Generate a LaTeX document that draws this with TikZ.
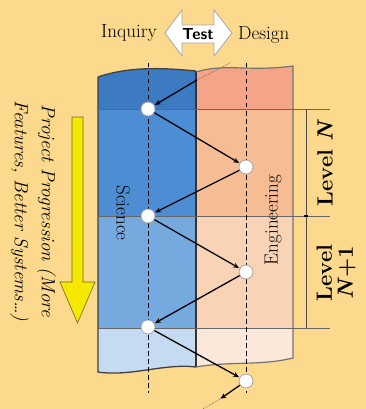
\documentclass[tikz,border=0pt]{standalone}
\usepackage{tikz}
\usetikzlibrary{arrows.meta}

\definecolor{paper}{HTML}{FCD98C}
\definecolor{sciA}{HTML}{3C7AC2}
\definecolor{sciB}{HTML}{4C8DD4}
\definecolor{sciC}{HTML}{76AADF}
\definecolor{sciD}{HTML}{C4DBF1}
\definecolor{engA}{HTML}{F5A487}
\definecolor{engB}{HTML}{F6BC93}
\definecolor{engC}{HTML}{F8D3B6}
\definecolor{engD}{HTML}{FBE8DA}
\definecolor{arrowyellow}{HTML}{F6E800}

\tikzset{
  stage/.style={circle,draw=gray!70,fill=white,line width=0.8pt,minimum size=14pt,inner sep=0pt},
  flow/.style={-{Stealth[length=6pt,width=5pt]},line width=1.3pt,shorten >=0.5pt},
  track/.style={line width=1pt,dash pattern=on 4.5pt off 3.5pt},
  levelrule/.style={draw=black!60,line width=0.7pt},
  caption/.style={font=\fontsize{19}{21}\selectfont},
  levelname/.style={font=\fontsize{22}{21}\selectfont\bfseries,rotate=90,align=center}
}

\begin{document}
\begin{tikzpicture}[x=1pt,y=-1pt]
  % background
  \fill[paper] (0,0) rectangle (366,409);
  \useasboundingbox (0,0) rectangle (366,409);

  % science column, shaded by level
  \begin{scope}
    \clip (98,77) .. controls (130,66) and (165,68) .. (196,71) -- (196,367)
      .. controls (165,363) and (130,377) .. (98,372) -- cycle;
    \fill[sciA] (90,60) rectangle (200,109);
    \fill[sciB] (90,109) rectangle (200,216);
    \fill[sciC] (90,216) rectangle (200,328);
    \fill[sciD] (90,328) rectangle (200,380);
  \end{scope}
  % engineering column, shaded by level
  \begin{scope}
    \clip (196,72) .. controls (225,63) and (250,72) .. (293,66) -- (293,358)
      .. controls (260,366) and (230,361) .. (196,367) -- cycle;
    \fill[engA] (190,60) rectangle (300,109);
    \fill[engB] (190,109) rectangle (300,216);
    \fill[engC] (190,216) rectangle (300,328);
    \fill[engD] (190,328) rectangle (300,380);
  \end{scope}
  % column edges
  \draw[black!75,line width=1.3pt] (98,77) .. controls (130,66) and (165,68) .. (196,71)
    (196,367) .. controls (165,363) and (130,377) .. (98,372) -- (98,77);
  \draw[black!80,line width=1.4pt] (196,71) -- (196,367);
  \draw[black!55,line width=1.2pt] (196,72) .. controls (225,63) and (250,72) .. (293,66)
    -- (293,358) .. controls (260,366) and (230,361) .. (196,367);

  % level boundaries and the bracket beside them
  \foreach \yy in {109,216,328}
    \draw[levelrule] (98,\yy) -- (330,\yy);
  \draw[black!70,line width=0.8pt] (306,109) -- (306,328);
  \draw[black,line width=1.2pt] (304,216) -- (308,216);

  % dashed tracks
  \draw[track] (148,63) -- (148,393);
  \draw[track] (246,63) -- (246,393);

  % stages
  \coordinate (entry) at (197,80);
  \coordinate (lead) at (230,63);
  \node[stage] (s1) at (148,109) {};
  \node[stage] (e1) at (246,167) {};
  \node[stage] (s2) at (148,216) {};
  \node[stage] (e2) at (246,272) {};
  \node[stage] (s3) at (148,327) {};
  \node[stage] (e3) at (246,381) {};
  \coordinate (exit) at (220,399);
  \coordinate (tail) at (203,409);

  % zig-zag between inquiry and design
  \draw[densely dotted,black!60,line width=0.7pt] (lead) -- (entry);
  \draw[flow] (entry) -- (s1);
  \draw[flow] (s1) -- (e1);
  \draw[flow] (e1) -- (s2);
  \draw[flow] (s2) -- (e2);
  \draw[flow] (e2) -- (s3);
  \draw[flow] (s3) -- (e3);
  \draw[flow] (e3) -- (exit);
  \draw[densely dotted,black!60,line width=0.7pt] (exit) -- (tail);

  % column titles
  \node[caption,rotate=-90] (science) at (123,213) {Science};
  \node[caption,rotate=90] (engineering) at (273,220) {Engineering};

  % inquiry / design exchange
  \draw[fill=white,draw=gray!70,line width=0.8pt]
    (165,33) -- (182,10) -- (182,25) -- (214,25) -- (214,10) -- (232,33)
    -- (214,56) -- (214,43) -- (182,43) -- (182,56) -- cycle;
  \node[font=\fontsize{16}{18}\selectfont\sffamily\bfseries] (test) at (198,34) {Test};
  \node[caption,anchor=east,inner sep=2pt] (inquiry) at (159,33) {Inquiry};
  \node[caption,anchor=west,inner sep=2pt] (design) at (236,35) {Design};

  % levels
  \node[levelname] (levN) at (325,163) {Level \textit{N}};
  \node[levelname] (levN1) at (336,273) {Level\\\textit{N}+1};

  % progression arrow
  \draw[fill=arrowyellow,draw=olive!70!black,line width=0.6pt]
    (72,117) -- (83,117) -- (83,282) -- (95,282) -- (77.5,323) -- (60,282) -- (72,282) -- cycle;
  \node[font=\fontsize{19}{27}\selectfont\itshape,rotate=-90,align=center] (progress) at (33,211)
    {Project Progression (More\\Features, Better Systems\dots)};
\end{tikzpicture}
\end{document}
